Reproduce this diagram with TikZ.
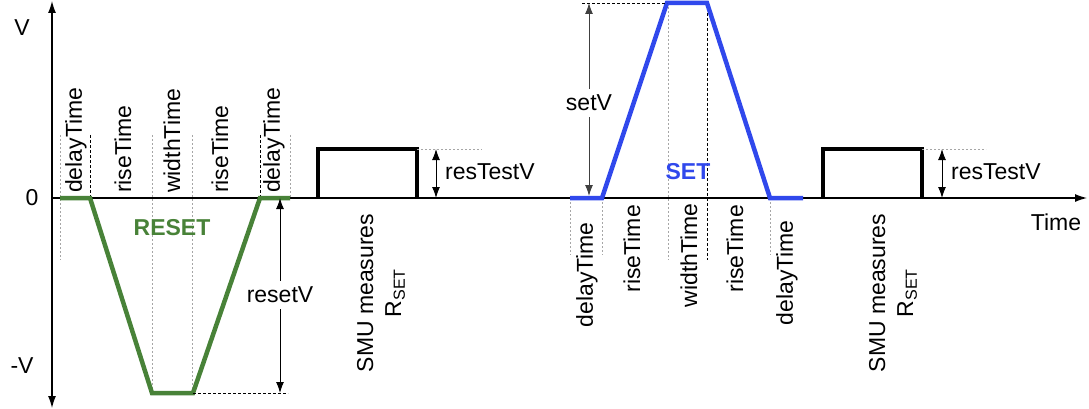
\documentclass[tikz,border=0pt]{standalone}
\usepackage{fontspec}
\setmainfont{Liberation Sans}
\usetikzlibrary{arrows.meta}
\definecolor{resetgreen}{RGB}{72,130,56}
\definecolor{setblue}{RGB}{48,72,236}
\tikzset{
  lbl/.style={font=\fontsize{23}{28}\selectfont, inner sep=0pt},
  vlbl/.style={lbl, rotate=90},
  axis/.style={line width=1.2pt, -{Latex[length=12pt,width=8pt]}},
  pulse/.style={line width=4.5pt, line join=miter},
  testbox/.style={line width=3.5pt, line join=miter},
  guide/.style={gray!70, line width=0.8pt, dash pattern=on 2pt off 2pt},
  edgeline/.style={black, line width=0.9pt, dash pattern=on 3pt off 2pt},
  dimtip/.style={line width=1pt, -{Latex[length=11pt,width=8pt]}},
}
\begin{document}
\begin{tikzpicture}[x=1pt,y=-1pt]
\useasboundingbox (0,0) rectangle (1089,409);

% axes
\coordinate (o) at (52,198);
\coordinate (ytop) at (52,1);
\coordinate (ybot) at (52,408);
\coordinate (tend) at (1087,198);
\draw[axis] (o) -- (ytop);
\draw[axis] (o) -- (ybot);
\draw[axis] (o) -- (tend);
\node[lbl] (lv) at (22,28) {V};
\node[lbl] (l0) at (32,198) {0};
\node[lbl] (lmv) at (22,366) {-V};
\node[lbl] (ltime) at (1056,222) {Time};

% ---------- RESET pulse ----------
\draw[guide] (60,135) -- (60,260);
\draw[edgeline]  (90,135) -- (90,198);
\draw[guide] (152,135) -- (152,393);
\draw[guide] (192,135) -- (192,393);
\draw[edgeline]  (260,135) -- (260,198);
\draw[guide] (290,135) -- (290,198);

\node[vlbl, anchor=west] (rd1) at (76,193) {delayTime};
\node[vlbl, anchor=west] (rr1) at (123,193) {riseTime};
\node[vlbl, anchor=west] (rw)  at (172,193) {widthTime};
\node[vlbl, anchor=west] (rr2) at (220,193) {riseTime};
\node[vlbl, anchor=west] (rd2) at (274,193) {delayTime};

\draw[pulse, resetgreen] (60,198) -- (90,198) -- (152,393) -- (193,393) -- (260,198) -- (290,198);
\node[lbl, font=\fontsize{23}{28}\selectfont\bfseries, text=resetgreen] (reset) at (172,228) {RESET};

\coordinate (rvtop) at (280,198);
\coordinate (rvbot) at (280,393);
\draw[edgeline] (193,393) -- (288,393);
\node[lbl, fill=white, inner ysep=6pt] (resetv) at (280,295) {resetV};
\draw[dimtip] (resetv) -- (rvtop);
\draw[dimtip] (resetv) -- (rvbot);

% ---------- first resistance test ----------
\draw[testbox] (318,198) -- (318,149) -- (417,149) -- (417,198);
\draw[guide] (417,149) -- (482,149);
\coordinate (t1top) at (436,149);
\coordinate (t1bot) at (436,198);
\coordinate (t1mid) at (436,173);
\draw[dimtip] (t1mid) -- (t1top);
\draw[dimtip] (t1mid) -- (t1bot);
\node[lbl, anchor=west] (rtv1) at (445,172) {resTestV};
\node[vlbl, align=center] (smu1) at (381,293) {SMU measures\\R\textsubscript{SET}};

% ---------- SET pulse ----------
\draw[guide] (570,198) -- (570,255);
\draw[guide] (602,198) -- (602,255);
\draw[guide] (668,3) -- (668,260);
\draw[edgeline]  (707,3) -- (707,260);
\draw[guide] (770,198) -- (770,255);

\node[vlbl, anchor=east] (sd1) at (587,222) {delayTime};
\node[vlbl, anchor=east] (sr1) at (632,205) {riseTime};
\node[vlbl, anchor=east] (sw)  at (689,203) {widthTime};
\node[vlbl, anchor=east] (sr2) at (735,205) {riseTime};
\node[vlbl, anchor=east] (sd2) at (787,220) {delayTime};

\draw[pulse, setblue] (570,198) -- (602,198) -- (667,3) -- (707,3) -- (770,198) -- (803,198);
\node[lbl, font=\fontsize{23}{28}\selectfont\bfseries, text=setblue] (set) at (688,172) {SET};

\coordinate (svtop) at (589,3);
\coordinate (svbot) at (589,196);
\draw[edgeline] (582,3) -- (667,3);
\node[lbl, fill=white, inner ysep=6pt] (setv) at (589,103) {setV};
\draw[dimtip, black!75] (setv) -- (svtop);
\draw[dimtip, black!75] (setv) -- (svbot);

% ---------- second resistance test ----------
\draw[testbox] (823,198) -- (823,149) -- (922,149) -- (922,198);
\draw[guide] (922,149) -- (986,149);
\coordinate (t2top) at (942,149);
\coordinate (t2bot) at (942,198);
\coordinate (t2mid) at (942,173);
\draw[dimtip] (t2mid) -- (t2top);
\draw[dimtip] (t2mid) -- (t2bot);
\node[lbl, anchor=west] (rtv2) at (951,172) {resTestV};
\node[vlbl, align=center] (smu2) at (893,293) {SMU measures\\R\textsubscript{SET}};
\end{tikzpicture}
\end{document}
